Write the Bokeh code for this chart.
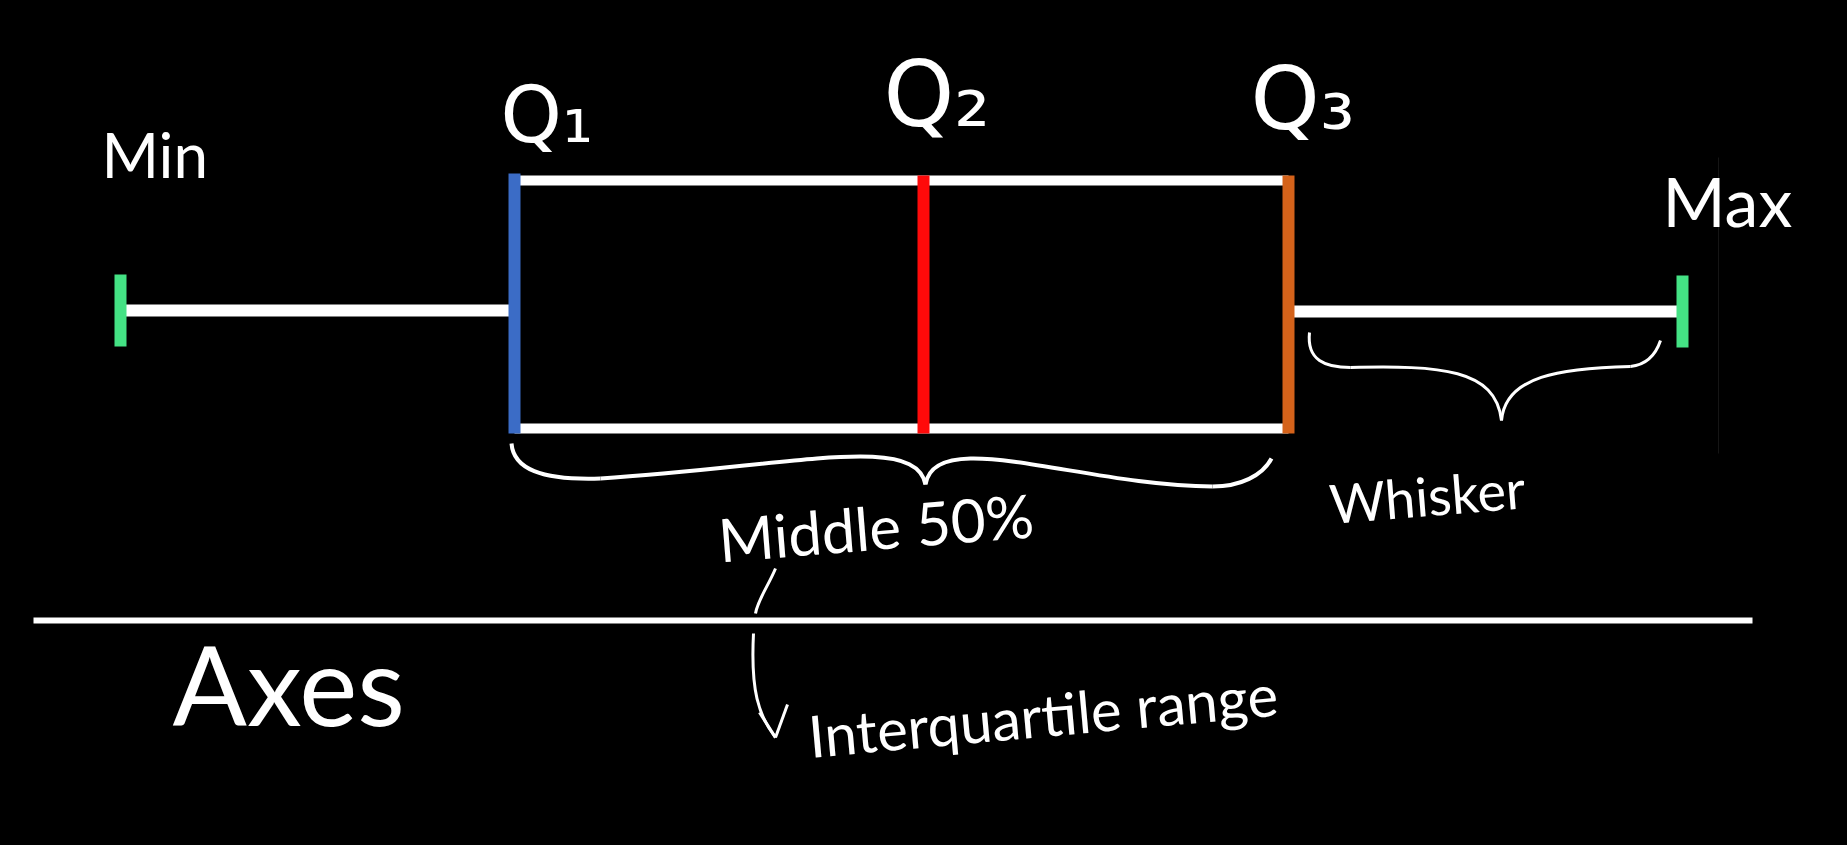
from bokeh.plotting import figure
from bokeh.models import Range1d, ColumnDataSource
from bokeh.core.properties import value
from bokeh.embed import file_html
from bokeh.resources import INLINE

# ---------------- data (diagram positions in picture units) ----------------
stat_labels = ["Min", "Q1", "Q2", "Q3", "Max"]
stat_values = [120, 514, 923, 1288, 1682]
box_top = 180
box_bottom = 428
whisker_y = 310
cap_half = 36

q_labels = ["Q\u2081", "Q\u2082", "Q\u2083"]
text_labels = ["Min", "Max", "Middle 50%", "Whisker", "Axes", "Interquartile range"]

# ---------------- colours ----------------
BG = "#000000"
WHITE = "#ffffff"
CAP = "#44e284"
Q1C = "#3b6cc6"
Q2C = "#ff0a0a"
Q3C = "#d4621a"

W, H = 1831, 829
p = figure(width=W, height=H, x_range=Range1d(0, W), y_range=Range1d(H, 0),
           output_backend="svg", toolbar_location=None, min_border=0,
           x_axis_type=None, y_axis_type=None)
p.background_fill_color = BG
p.border_fill_color = BG
p.outline_line_color = None
p.grid.visible = False

mn, q1, q2, q3, mx = stat_values

# faint artefact line
p.segment(x0=[1718], y0=[157], x1=[1718], y1=[453], line_color="#151515", line_width=1)

# whiskers
p.segment(x0=[mn, q3], y0=[whisker_y, whisker_y + 1], x1=[q1, mx], y1=[whisker_y, whisker_y + 1],
          line_color=WHITE, line_width=12)
# box top & bottom
p.segment(x0=[q1, q1], y0=[box_top, box_bottom], x1=[q3, q3], y1=[box_top, box_bottom],
          line_color=WHITE, line_width=10)
# quartile verticals
qsrc = ColumnDataSource(dict(x=[q1, q2, q3], y0=[box_top - 7, box_top - 5, box_top - 5],
                             y1=[box_bottom + 5, box_bottom + 5, box_bottom + 5],
                             c=[Q1C, Q2C, Q3C]))
p.segment(x0="x", y0="y0", x1="x", y1="y1", line_color="c", line_width=12, source=qsrc)
# caps
p.segment(x0=[mn, mx], y0=[whisker_y - cap_half, whisker_y - cap_half + 1],
          x1=[mn, mx], y1=[whisker_y + cap_half, whisker_y + cap_half + 1],
          line_color=CAP, line_width=12)

# axis line
p.segment(x0=[33], y0=[620], x1=[1752], y1=[620], line_color=WHITE, line_width=6)

# braces (hand drawn)
mid_brace = dict(
    x0=[q1 - 3, 600, q2 + 2, 1212], y0=[443, 478, 484, 486],
    cx0=[q1 - 1, 790, q2 + 12, 1240], cy0=[468, 466, 425, 486],
    cx1=[540, 915, 1080, 1262], cy1=[480, 432, 485, 475],
    x1=[600, q2 + 2, 1212, q3 - 17], y1=[478, 484, 486, 458])
p.bezier(source=ColumnDataSource(mid_brace), x0="x0", y0="y0", x1="x1", y1="y1",
         cx0="cx0", cy0="cy0", cx1="cx1", cy1="cy1", line_color=WHITE, line_width=4)

wh_brace = dict(
    x0=[q3 + 21, 1350, 1501, 1630], y0=[332, 367, 420, 366],
    cx0=[q3 + 18, 1440, 1505, 1648], cy0=[360, 365, 375, 364],
    cx1=[1325, 1495, 1560, 1656], cy1=[367, 368, 368, 352],
    x1=[1350, 1501, 1630, mx - 22], y1=[367, 420, 366, 340])
p.bezier(source=ColumnDataSource(wh_brace), x0="x0", y0="y0", x1="x1", y1="y1",
         cx0="cx0", cy0="cy0", cx1="cx1", cy1="cy1", line_color=WHITE, line_width=3)

# arrow from "Middle 50%" down to "Interquartile range"
arrow = dict(x0=[775, 753], y0=[568, 633], cx0=[768, 750], cy0=[585, 690],
             cx1=[757, 758], cy1=[600, 715], x1=[755, 775], y1=[613, 737])
p.bezier(source=ColumnDataSource(arrow), x0="x0", y0="y0", x1="x1", y1="y1",
         cx0="cx0", cy0="cy0", cx1="cx1", cy1="cy1", line_color=WHITE, line_width=3)
p.segment(x0=[759, 775], y0=[712, 737], x1=[775, 787], y1=[737, 704],
          line_color=WHITE, line_width=3)

# texts
tsrc = ColumnDataSource(dict(
    x=[101, 1662, 718, 1329, 172, 808],
    y=[153, 200, 539, 503, 682, 735],
    text=text_labels,
    size=["62px", "68px", "60px", "54px", "110px", "58px"],
    angle=[0, 0, 0.08, 0.08, 0, 0.09]))
p.text(x="x", y="y", text="text", text_font_size="size", angle="angle", source=tsrc,
       text_color=WHITE, text_font=value("Lato"), text_baseline="alphabetic",
       text_align="left")

qtsrc = ColumnDataSource(dict(x=[500, 883, 1250], y=[114, 94, 98], text=q_labels,
                              size=["78px", "90px", "88px"]))
p.text(x="x", y="y", text="text", text_font_size="size", source=qtsrc,
       text_color=WHITE, text_font=value("DejaVu Sans"), text_baseline="alphabetic",
       text_align="left")

html = file_html(p, INLINE)
html = html.replace("</head>", "<style>html,body{background:#000000;}</style></head>", 1)
open("out.html", "w").write(html)
